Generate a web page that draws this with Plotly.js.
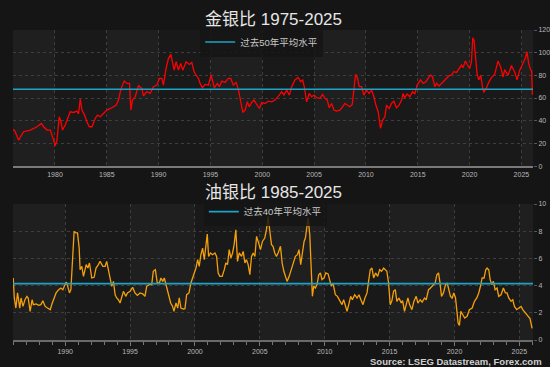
<!DOCTYPE html>
<html>
<head>
<meta charset="utf-8">
<script src="https://cdn.plot.ly/plotly-3.0.1.min.js"></script>
<style>html,body{margin:0;padding:0;background:#151515;}#chart{width:550px;height:367px;}</style>
</head>
<body>
<div id="chart"></div>
<script>
// ---- Gold / silver ratio (top) ----
const goldYears = [1975.95,1976.13,1976.49,1976.97,1977.62,1978.27,1978.68,1978.90,1979.23,1979.55,1979.81,1980.03,1980.19,1980.41,1980.58,1980.73,1980.99,1981.31,1981.47,1981.79,1982.12,1982.27,1982.44,1982.60,1982.82,1983.08,1983.31,1983.57,1983.88,1984.10,1984.37,1984.68,1985.01,1985.49,1985.91,1986.13,1986.36,1986.68,1986.94,1987.19,1987.32,1987.48,1987.74,1988.06,1988.38,1988.54,1988.86,1989.18,1989.50,1989.83,1990.08,1990.31,1990.46,1990.72,1990.95,1991.18,1991.33,1991.50,1991.69,1991.91,1992.14,1992.33,1992.65,1992.97,1993.20,1993.42,1993.62,1993.84,1994.00,1994.22,1994.48,1994.80,1995.06,1995.22,1995.38,1995.67,1995.86,1996.09,1996.41,1996.73,1996.96,1997.21,1997.47,1997.69,1997.92,1998.12,1998.34,1998.56,1998.75,1998.98,1999.20,1999.46,1999.72,1999.95,2000.26,2000.58,2000.91,2001.23,2001.40,2001.64,2001.87,2002.09,2002.35,2002.61,2002.84,2003.15,2003.47,2003.70,2003.90,2004.05,2004.28,2004.53,2004.76,2004.99,2005.25,2005.56,2005.82,2006.05,2006.27,2006.46,2006.69,2006.91,2007.17,2007.49,2007.75,2007.97,2008.19,2008.45,2008.68,2008.84,2009.00,2009.20,2009.35,2009.58,2009.80,2010.06,2010.31,2010.55,2010.77,2010.96,2011.18,2011.41,2011.61,2011.83,2011.99,2012.24,2012.47,2012.69,2012.95,2013.20,2013.44,2013.59,2013.75,2013.98,2014.24,2014.50,2014.72,2014.94,2015.13,2015.27,2015.52,2015.78,2016.00,2016.23,2016.42,2016.64,2016.81,2017.06,2017.29,2017.51,2017.77,2018.02,2018.25,2018.48,2018.74,2018.99,2019.22,2019.37,2019.60,2019.80,2020.02,2020.18,2020.31,2020.43,2020.60,2020.72,2020.88,2021.08,2021.24,2021.37,2021.63,2021.85,2022.11,2022.43,2022.74,2023.00,2023.23,2023.39,2023.71,2024.04,2024.35,2024.58,2024.84,2025.15,2025.38,2025.54,2025.70,2025.90,2025.99,2026.06];
const goldRatio = [32.4,31.0,22.9,30.3,31.8,34.7,37.6,34.7,31.8,31.8,24.4,17.9,22.9,43.5,39.1,31.8,36.2,43.5,47.9,47.3,48.5,45.9,59.1,49.4,45.6,39.1,34.7,34.7,42.0,45.0,43.5,46.4,49.4,51.4,53.8,58.2,67.9,75.0,72.9,72.9,49.4,58.2,61.1,70.9,68.5,62.0,65.6,64.1,70.0,71.4,77.3,77.3,71.4,86.1,95.0,98.5,92.0,84.6,92.0,84.6,90.5,84.6,92.0,89.6,91.4,83.2,80.3,77.3,72.9,69.1,72.0,71.4,80.3,75.0,69.1,72.9,70.0,75.0,73.8,77.3,77.3,71.4,73.8,67.9,56.7,47.3,49.4,56.7,52.3,56.1,58.2,53.8,50.8,56.1,55.2,57.3,56.7,58.2,59.7,62.6,65.6,62.6,67.0,62.6,70.0,75.9,78.2,74.4,75.9,70.0,56.7,64.1,61.1,62.6,60.3,59.7,63.2,59.7,58.2,51.4,55.2,49.4,48.5,49.4,52.3,55.2,53.8,52.3,54.4,70.0,80.9,77.3,70.0,70.0,62.6,67.0,64.1,67.0,61.1,53.8,47.9,33.2,40.6,43.5,53.8,50.8,55.2,57.3,51.4,53.8,58.2,64.0,60.3,63.5,61.1,65.6,63.5,71.4,74.4,76.0,72.9,74.4,77.3,80.3,78.8,70.0,72.9,70.6,72.9,75.0,77.3,79.7,80.3,83.2,82.6,86.1,89.1,86.7,92.6,89.1,86.1,92.0,113.2,111.0,90.0,81.8,76.0,80.0,70.0,65.0,69.0,74.0,78.0,81.0,92.6,87.4,78.5,85.0,80.0,88.7,82.9,76.0,84.6,90.5,95.0,100.8,90.5,84.6,84.0,63.0];
const goldMean = [67.7];
const goldTickVals = [1980,1985,1990,1995,2000,2005,2010,2015,2020,2025];
const goldTickText = ["1980","1985","1990","1995","2000","2005","2010","2015","2020","2025"];
const goldYTicks = [0,20,40,60,80,100,120];

// ---- Oil / silver ratio (bottom) ----
const oilYears = [1986.0,1986.08,1986.2,1986.33,1986.5,1986.6,1986.75,1986.9,1987.05,1987.15,1987.3,1987.45,1987.55,1987.77,1987.95,1988.13,1988.28,1988.46,1988.64,1988.85,1988.98,1989.15,1989.3,1989.5,1989.67,1989.82,1989.95,1990.08,1990.18,1990.33,1990.44,1990.56,1990.69,1990.82,1990.95,1991.08,1991.15,1991.28,1991.41,1991.62,1991.75,1991.87,1992.05,1992.23,1992.38,1992.56,1992.69,1992.9,1993.08,1993.2,1993.33,1993.46,1993.59,1993.72,1993.85,1993.97,1994.1,1994.23,1994.36,1994.49,1994.67,1994.8,1995.0,1995.2,1995.38,1995.56,1995.77,1995.98,1996.15,1996.28,1996.49,1996.67,1996.79,1996.95,1997.1,1997.26,1997.38,1997.52,1997.64,1997.77,1997.95,1998.13,1998.28,1998.38,1998.54,1998.67,1998.79,1998.92,1999.1,1999.23,1999.36,1999.54,1999.69,1999.82,1999.95,2000.08,2000.21,2000.33,2000.46,2000.59,2000.72,2000.85,2000.95,2001.05,2001.2,2001.36,2001.54,2001.67,2001.79,2001.92,2002.1,2002.26,2002.38,2002.51,2002.64,2002.77,2002.9,2003.02,2003.15,2003.28,2003.41,2003.59,2003.72,2003.85,2003.97,2004.1,2004.23,2004.36,2004.49,2004.62,2004.75,2004.87,2005.05,2005.2,2005.38,2005.51,2005.64,2005.77,2005.9,2006.02,2006.15,2006.28,2006.41,2006.59,2006.72,2006.85,2006.98,2007.1,2007.26,2007.38,2007.56,2007.74,2007.9,2008.02,2008.15,2008.28,2008.41,2008.51,2008.59,2008.72,2008.85,2008.95,2009.05,2009.15,2009.28,2009.41,2009.54,2009.67,2009.79,2009.95,2010.08,2010.26,2010.38,2010.51,2010.64,2010.82,2010.98,2011.15,2011.33,2011.46,2011.62,2011.72,2011.85,2012.0,2012.13,2012.31,2012.49,2012.64,2012.79,2012.95,2013.1,2013.26,2013.38,2013.51,2013.64,2013.77,2013.92,2014.08,2014.23,2014.38,2014.54,2014.69,2014.79,2014.92,2015.05,2015.18,2015.31,2015.44,2015.56,2015.72,2015.9,2016.0,2016.15,2016.28,2016.41,2016.54,2016.72,2016.87,2017.05,2017.18,2017.36,2017.51,2017.69,2017.82,2018.0,2018.15,2018.33,2018.51,2018.64,2018.77,2018.87,2019.0,2019.15,2019.31,2019.44,2019.56,2019.69,2019.82,2019.95,2020.08,2020.18,2020.28,2020.38,2020.49,2020.64,2020.79,2020.97,2021.15,2021.36,2021.54,2021.72,2021.87,2022.0,2022.13,2022.28,2022.41,2022.51,2022.64,2022.75,2022.87,2023.0,2023.13,2023.28,2023.41,2023.59,2023.77,2023.92,2024.05,2024.18,2024.36,2024.49,2024.62,2024.79,2024.95,2025.13,2025.26,2025.46,2025.64,2025.82,2025.98];
const oilRatio = [4.56,3.09,2.35,3.46,2.35,3.09,2.47,2.96,3.21,3.09,2.11,2.96,2.60,2.65,2.55,2.60,2.89,2.47,2.35,2.23,2.65,3.09,3.46,3.70,3.82,3.70,3.95,4.26,4.01,3.46,3.70,5.54,7.99,7.87,7.87,6.76,5.17,5.42,4.68,5.54,5.29,5.66,4.56,4.61,5.29,5.54,5.78,5.42,5.42,5.78,5.17,4.44,3.95,4.31,3.33,3.09,2.96,2.72,3.14,3.58,3.21,3.46,3.58,3.87,3.46,3.28,3.46,3.40,3.21,3.95,4.07,4.07,5.05,5.17,4.19,4.19,4.56,4.31,4.56,4.01,3.33,2.72,2.47,2.11,2.72,2.35,3.09,2.35,2.28,2.30,3.33,3.46,4.19,4.56,4.93,5.29,5.91,5.42,6.27,6.76,5.91,7.01,7.79,6.15,6.40,6.27,6.40,6.15,4.93,4.68,4.68,5.17,5.66,5.54,6.64,6.03,6.40,7.01,8.11,5.78,6.40,6.15,6.52,5.66,5.91,5.54,4.80,6.15,6.40,6.15,7.62,7.25,6.64,7.25,7.50,8.11,9.09,8.00,7.01,6.89,6.40,6.15,6.40,6.89,5.66,5.05,4.68,4.31,4.68,5.05,5.66,6.15,6.27,6.64,5.54,6.40,7.25,7.50,8.24,8.97,7.74,5.29,3.21,3.95,3.82,4.07,4.80,4.93,4.44,4.56,4.93,4.86,4.31,3.95,4.19,3.33,3.21,2.96,2.60,2.96,2.47,2.11,2.60,3.21,2.96,3.33,3.09,3.33,2.96,2.60,3.09,3.46,4.31,5.17,5.29,4.56,4.93,4.68,5.17,5.05,5.29,5.17,5.05,4.19,2.60,2.90,3.60,3.70,2.84,3.09,2.72,2.90,2.11,2.60,3.09,2.60,2.23,2.84,3.21,2.72,2.96,2.79,3.09,2.96,3.70,3.82,4.01,4.19,4.80,4.93,4.31,3.21,3.46,4.07,4.19,3.70,3.21,3.09,3.46,3.09,2.35,1.25,1.08,2.11,1.86,1.62,1.74,2.23,2.35,2.84,3.09,3.46,3.95,4.56,4.56,5.17,5.29,5.17,4.44,4.07,4.31,3.70,3.82,3.21,3.33,3.82,3.46,3.46,3.09,2.84,2.96,2.47,2.23,2.35,2.47,2.23,1.98,1.81,1.57,0.85];
const oilMean = [4.14];
const oilTickVals = [1990,1995,2000,2005,2010,2015,2020,2025];
const oilTickText = ["1990","1995","2000","2005","2010","2015","2020","2025"];
const oilYTicks = [0,2,4,6,8,10];

const titles = ["金银比 1975-2025", "油银比 1985-2025"];
const legendNames = ["过去50年平均水平", "过去40年平均水平"];
const sourceText = "Source: LSEG Datastream, Forex.com";

const xRangeTop = [1975.95, 2026.12];
const xRangeBot = [1985.98, 2026.05];

const FONT = "Liberation Sans, Arial, Noto Sans CJK SC, sans-serif";
const CJK = "Liberation Sans, Noto Sans CJK SC, sans-serif";
const lightBand = "#1f1f1f";

// alternating 5-year background bands
function bands(xref, yref, range) {
  const out = [];
  for (let y = 1975; y < range[1]; y += 10) {
    const x0 = Math.max(y, range[0]);
    const x1 = Math.min(y + 5, range[1]);
    if (x1 > x0) out.push({type:'rect', xref:xref, yref:yref, x0:x0, x1:x1, y0:0, y1:1,
      fillcolor: lightBand, line:{width:0}, layer:'below'});
  }
  return out;
}

const traces = [
  {x: goldYears, y: goldRatio, type:'scatter', mode:'lines', xaxis:'x', yaxis:'y',
   line:{color:'#ff0000', width:1.3}, showlegend:false, hoverinfo:'skip'},
  {x: xRangeTop, y: [goldMean[0], goldMean[0]], type:'scatter', mode:'lines', xaxis:'x', yaxis:'y',
   line:{color:'#1ea3c6', width:1.5}, name: legendNames[0], legend:'legend'},
  {x: oilYears, y: oilRatio, type:'scatter', mode:'lines', xaxis:'x2', yaxis:'y2',
   line:{color:'#f5a00a', width:1.3}, showlegend:false, hoverinfo:'skip'},
  {x: xRangeBot, y: [oilMean[0], oilMean[0]], type:'scatter', mode:'lines', xaxis:'x2', yaxis:'y2',
   line:{color:'#1ea3c6', width:1.8}, name: legendNames[1], legend:'legend2'}
];

const gridCommon = {gridcolor:'#3e3e3e', griddash:'dot', gridwidth:1, zeroline:false};
const tickFont = {family: FONT, size: 7, color:'#b8b8b8'};

const layout = {
  width:550, height:367,
  paper_bgcolor:'#151515', plot_bgcolor:'#191919',
  margin:{l:13, r:17, t:30, b:27},
  font:{family: FONT, color:'#ccc'},
  xaxis: Object.assign({domain:[0,1], anchor:'y', range:xRangeTop, tickvals:goldTickVals, ticktext:goldTickText,
    tickfont:tickFont, showline:true, linecolor:'#7a7a7a', linewidth:2, ticks:'', ticklabelstandoff:1}, gridCommon),
  yaxis: Object.assign({domain:[0.561,1], anchor:'x', side:'right', range:[0,120], tickvals:goldYTicks,
    tickfont:tickFont, ticks:'outside', ticklen:3, tickcolor:'#555', showline:false}, gridCommon),
  xaxis2: Object.assign({domain:[0,1], anchor:'y2', range:xRangeBot, tickvals:oilTickVals, ticktext:oilTickText,
    tickfont:tickFont, showline:true, linecolor:'#6a6a6a', linewidth:1.5, ticks:'outside', ticklen:4, tickcolor:'#777',
    minor:{dtick:1, tick0:1986, ticks:'outside', ticklen:3, tickcolor:'#777', showgrid:false}}, gridCommon),
  yaxis2: Object.assign({domain:[0,0.4387], anchor:'x2', side:'right', range:[0,10], tickvals:oilYTicks,
    tickfont:tickFont, ticks:'outside', ticklen:3, tickcolor:'#555', showline:false}, gridCommon),
  shapes: bands('x', 'y domain', xRangeTop).concat(bands('x2', 'y2 domain', xRangeBot)),
  legend:{x:0.36, y:0.961, xanchor:'left', yanchor:'middle', bgcolor:'rgba(21,21,21,0.85)',
    font:{family:CJK, size:9.5, color:'#c8c8c8'}, borderwidth:0},
  legend2:{x:0.367, y:0.414, xanchor:'left', yanchor:'middle', bgcolor:'rgba(21,21,21,0.85)',
    font:{family:CJK, size:9.5, color:'#c8c8c8'}, borderwidth:0},
  annotations:[
    {text:titles[0], xref:'paper', yref:'paper', x:0.5, y:1.035, xanchor:'center', yanchor:'middle',
     showarrow:false, font:{family:CJK, size:17, color:'#e6e6e6'}},
    {text:titles[1], xref:'paper', yref:'paper', x:0.5, y:0.475, xanchor:'center', yanchor:'middle',
     showarrow:false, font:{family:CJK, size:17, color:'#e6e6e6'}},
    {text:'<b>'+sourceText+'</b>', xref:'paper', yref:'paper', x:1.021, y:-0.068, xanchor:'right', yanchor:'middle',
     showarrow:false, font:{family:FONT, size:9.5, color:'#d0d0d0'}}
  ]
};

Plotly.newPlot('chart', traces, layout, {staticPlot:true, displayModeBar:false});
</script>
</body>
</html>
